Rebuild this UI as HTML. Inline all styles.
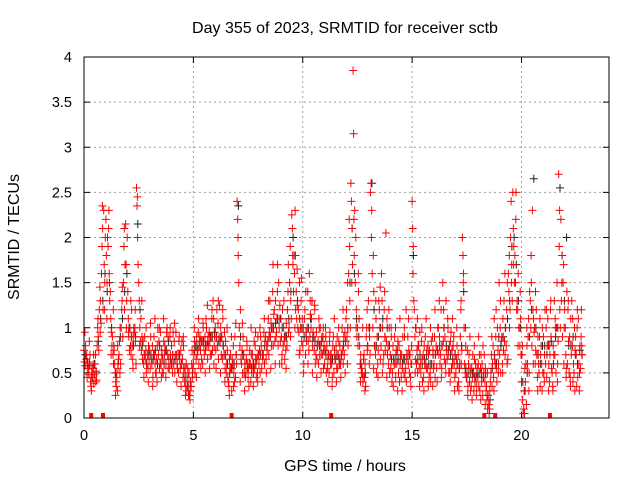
<!DOCTYPE html>
<html><head><meta charset="utf-8"><style>
html,body{margin:0;padding:0;background:#fff;}
svg{display:block;font-family:"Liberation Sans",sans-serif;}
</style></head><body>
<svg id="chart" width="640" height="480">
<text x="345" y="33" text-anchor="middle" font-size="16">Day 355 of 2023, SRMTID for receiver sctb</text>
<text x="19" y="237" text-anchor="middle" font-size="16" transform="rotate(-90 19 237)">SRMTID / TECUs</text>
<text x="345" y="471" text-anchor="middle" font-size="16">GPS time / hours</text>
<g id="grid"></g>
<g id="ticks"></g>
<g id="blk"></g>
<g id="red"></g>
<g id="marks"></g>
<rect x="84" y="57" width="525" height="361" fill="none" stroke="#000" stroke-width="1"/>
</svg>
<script>
const xTicks=[0,5,10,15,20];
const yTicks=[0,0.5,1,1.5,2,2.5,3,3.5,4];
const yTickLabels=["0","0.5","1","1.5","2","2.5","3","3.5","4"];
const tStart=0, tStep=0.1;
const redA=[.75,.65,.55,.40,.45,.60,.80,1.2,1.6,2.3, 2.2,1.9,1.4,.9,.6,.45,.7,1.0,1.5,2.15, 1.4,1.0,.8,.95,2.55,1.5,1.1,.85,.65,.7, .75,.6,.9,.5,.7,.95,.65,.8,1.0,.55, .8,.6,.95,.7,.55,.65,.4,.3,.5,.35, .6,.8,.75,.9,.85,.7,1.0,.8,.9,1.3, 1.0,.8,1.25,.9,.7,.5,.4,.7,.6,.9, 2.4,1.0,.6,.7,.5,.45,.6,.7,.55,.65, .6,.8,.7,.9,.85,1.3,1.0,1.2,.95,1.5, 1.1,.8,.9,1.2,1.5,2.25,1.8,1.4,1.2,1.0, .8,1.2,1.0,1.6,1.1,.9,.7,.85,1.0,.7, .6,.8,.5,.7,.9,.65,.55,.8,1.0,.7, 1.2,1.6,2.6,3.85,1.5,1.0,.8,.55,.7,.9, 1.3,2.5,1.0,.8,.9,1.2,1.6,.7,2.05,.8, .7,.5,.9,.6,.8,.45,.65,.55,.9,.7, 2.4,1.2,.6,.8,.5,.7,.9,.55,.75,.6, .6,.8,1.0,.7,1.5,.9,.65,.8,.55,.9, .5,.7,.9,2.0,.6,.45,.7,.35,.5,.6, .45,.3,.6,.7,.35,.15,.5,.8,.6,1.0, .7,.9,1.3,.8,1.6,2.0,2.5,1.8,1.3,1.0, .4,.1,.6,.9,1.3,2.3,1.0,.7,.5,.8, .9,.6,1.1,.7,.5,1.3,1.0,2.7,2.2,1.5, 1.0,.6,.9,1.3,.5,.7,1.1,.55];
const redB=[.62,.70,.48,.35,.55,.70,1.0,1.45,1.9,1.7, 1.8,2.1,1.1,.7,.5,.3,.85,1.2,1.9,1.7, 1.1,.8,.65,1.0,2.35,1.3,.75,.6,.75,.55, .55,.8,.7,.65,.85,.6,.5,.75,.7,.9, .6,.85,.7,.5,.75,.45,.55,.35,.25,.6, .7,.65,.95,.75,.6,.9,.8,.95,.7,1.1, .75,1.05,.85,.65,.95,.6,.35,.55,.8,.45, 2.2,.8,.75,.5,.65,.55,.4,.6,.8,.5, .75,.55,.95,.65,1.1,.9,1.4,.85,1.1,1.0, .9,1.0,.75,1.4,1.9,2.1,1.6,1.1,.95,1.3, 1.0,.7,1.4,.9,1.3,.75,.95,.6,.8,.9, .75,.55,.85,.6,.5,.8,.7,.6,.75,.95, .9,2.2,2.4,3.15,2.0,.8,.6,.5,.45,1.0, 1.0,2.6,1.8,.7,.6,1.0,1.3,1.2,.85,.6, .55,.8,.6,.75,.4,.7,.5,1.2,.6,.45, 2.1,.9,.75,.55,.85,.45,.6,.8,.5,.9, .9,.55,.7,1.2,.85,.6,1.1,.5,.75,.6, .65,.4,1.2,1.8,.5,.75,.4,.55,.3,.45, .6,.55,.25,.4,.2,.05,.7,.45,.9,.75, 1.0,.6,.85,1.2,1.4,2.4,2.1,1.5,1.2,.8, .7,.3,.15,1.1,1.0,1.2,.6,.45,.9,.6, .5,1.0,.8,1.2,.35,.7,1.5,1.9,1.3,1.7, .7,1.2,.45,.8,1.0,.35,.6,.9];
const redC=[.58,.55,.62,.50,.38,.52,.90,1.3,2.1,1.5, 1.5,1.6,.95,.6,.4,.55,1.0,1.45,1.2,1.3, .9,.7,.9,.85,2.0,1.0,.9,.7,.5,.8, .9,.45,.6,.8,.55,.75,.85,.6,.55,.7, .7,.5,.6,.9,.6,.8,.35,.45,.3,.45, .85,.9,.6,.85,1.0,.75,.65,.85,1.2,.8, .9,.65,1.0,1.1,.55,.75,.65,.3,.5,.7, 1.8,1.2,.5,.6,.8,.6,.7,.5,.65,.9, .5,.7,.6,.8,.7,1.05,.8,1.3,1.7,1.25, .7,.85,1.05,.95,1.3,1.7,2.3,1.25,1.5,.85, .6,.95,.85,1.15,.8,1.2,.65,1.0,.7,.55, .9,.65,.7,.45,.75,.55,.85,.65,.6,.85, 1.5,1.3,2.1,1.8,1.2,1.4,.7,.4,.6,.75, .9,2.3,1.4,1.1,.75,.65,1.0,.9,1.1,1.0, .9,.65,.45,.85,.6,.55,.9,.65,.75,.6, 1.9,.65,.5,.95,.65,.8,.55,.7,.4,.75, .45,.75,.9,.55,1.0,1.3,.7,.85,.6,.45, .8,.55,.6,1.6,.8,.35,.55,.45,.65,.35, .35,.7,.45,.55,.1,.3,.35,1.1,.55,.6, .5,1.1,.7,1.5,1.0,1.7,1.9,2.5,1.6,1.1, .2,.55,.8,.5,1.5,1.1,.75,.9,.35,1.0, .7,.45,.6,.9,.8,1.0,.6,1.2,1.8,1.0, .55,.85,1.1,.4,.75,1.2,.5,.8];
const redD=[.80,.60,.70,.55,.48,.42,.75,1.05,1.2,2.0, 2.0,1.3,.8,.75,.35,.65,.6,.9,1.7,2.0, .75,1.2,1.0,.6,1.7,.85,.65,.9,.6,.65, .65,.7,.5,1.0,.6,.5,.7,.95,.65,.6, .95,.7,.55,.65,.85,.5,.6,.25,.4,.55, .5,.7,.85,.65,.8,1.1,.9,.7,.75,.9, 1.2,.9,.7,.8,.85,.45,.55,.65,.4,.6, 1.5,.65,.9,.45,.55,.75,.5,.85,.45,.7, .9,.65,.85,.75,.95,.8,1.15,.9,.8,.85, 1.2,.65,.8,1.0,1.1,1.4,1.2,1.0,.75,1.1, 1.1,.85,.75,1.0,.95,.6,.8,.7,.9,.8, .5,.7,.6,.8,.65,.9,.6,.7,.9,1.1, .8,1.0,1.7,2.3,.9,1.1,.5,.65,.35,.8, .7,1.6,.8,.5,1.3,.8,.6,.75,.7,.5, .4,.6,.75,.5,.7,.9,.45,.7,.5,.8, 1.3,1.0,.8,.6,.4,.6,.75,.45,.85,.55, .7,1.0,.6,.8,.65,.75,.5,.95,.8,.7, .35,.6,.75,1.0,.45,.6,.3,.7,.4,.55, .7,.4,.5,.3,.25,.4,.6,.65,.4,1.5, .85,.75,1.0,.65,1.2,1.3,1.5,1.2,1.0,.7, .05,.4,.6,1.4,.8,.95,1.2,.6,.7,.5, 1.2,.8,.4,.55,.7,.5,.85,1.0,.9,1.2, 1.4,.5,.7,.6,.9,.45,.8,.7];
const redE=[.95,.45,.85,.3,.7,.4,1.1,.95,2.35,1.2, 1.1,2.3,.7,1.2,.25,.8,.5,1.3,2.1,1.0, .95,1.3,.55,1.2,2.45,.8,1.3,.45,1.0,.4, 1.05,.35,1.1,.4,1.0,.45,1.1,.45,.9,1.0, .5,1.05,.4,.85,.35,.9,.25,.55,.2,.75, 1.0,.45,1.1,.55,1.05,.5,1.25,.55,1.1,.6, .55,1.3,.5,1.2,.4,1.0,.25,.9,.35,1.05, 2.0,.4,1.05,.3,.85,.35,1.0,.35,.95,.4, 1.0,.4,1.1,.5,1.3,.55,1.7,.6,1.4,.6, .6,1.3,.55,1.7,.9,1.8,1.0,1.65,.7,1.55, .5,1.4,.6,1.3,.5,1.25,.45,1.1,.5,1.0, 1.0,.4,.95,.35,1.1,.4,1.0,.45,1.2,.5, .6,1.9,1.5,2.2,1.0,1.6,.4,1.0,.3,1.2, .6,2.0,.55,1.3,.45,1.45,.5,1.4,.45,1.2, 1.0,.35,1.0,.3,1.1,.3,1.0,.4,1.1,.35, 1.6,.5,1.1,.35,1.0,.3,1.1,.35,1.0,.35, 1.2,.4,1.3,.45,1.2,.5,1.0,.4,1.1,.3, 1.0,.3,1.3,1.5,1.0,.25,.9,.2,.8,.25, .9,.2,.8,.15,.5,.1,.9,.3,1.2,.5, 1.3,.5,1.6,.6,1.8,1.5,1.7,2.2,.8,1.4, .8,.05,1.0,.3,1.8,.6,1.4,.3,1.1,.3, .4,1.2,.3,1.3,.3,1.1,.4,2.3,1.5,.6, .45,1.3,.35,1.1,.3,1.0,.3,1.2];
const black=[.70,.62,.58,.45,.60,.50,.85,1.1,1.3,1.6, 1.4,1.5,1.0,.8,.5,.6,.9,1.1,1.4,1.6, 1.0,.9,.8,.9,2.15,1.2,.8,.7,.6,.7, .7,.65,.75,.6,.8,.7,.6,.75,.85,.65, .7,.65,.6,.7,.6,.55,.45,.35,.4,.5, .75,.8,.8,.85,.85,.8,.85,.9,.9,.95, .9,.85,.9,.8,.7,.6,.5,.55,.6,.7, 2.35,.9,.7,.6,.6,.6,.55,.6,.6,.7, .7,.7,.8,.8,.9,1.0,1.0,1.05,1.1,1.1, 1.0,.9,.9,1.1,1.4,2.0,1.8,1.3,1.1,1.0, .9,.9,1.0,1.1,.9,.85,.8,.8,.85,.75, .7,.7,.65,.65,.7,.7,.65,.7,.8,.85, 1.0,1.5,2.1,1.6,1.1,.9,.6,.45,.5,.8, 1.0,2.6,1.2,.8,.9,1.0,1.1,.9,1.0,.8, .65,.65,.7,.65,.65,.6,.65,.7,.7,.6, 1.8,1.0,.65,.7,.6,.65,.7,.6,.6,.7, .7,.75,.8,.8,1.0,.8,.75,.7,.65,.7, .6,.55,.8,1.4,.55,.5,.5,.5,.45,.5, .5,.5,.45,.5,.25,.2,.55,.7,.6,.9, .8,.9,1.0,1.1,1.3,1.9,2.0,1.7,1.3,1.0, .4,.3,.5,.9,1.2,2.65,1.0,.7,.6,.8, .8,.7,.8,.85,.6,.9,1.0,2.55,1.8,1.3, 2.0,.8,.8,.9,.7,.6,.75,.7];
const markerHours=[0.33,0.87,6.75,11.3,18.3,18.8,21.3];

const NS="http://www.w3.org/2000/svg";
const X0=84,X1=609,Y0=418,Y1=57,XMAX=24,YMAX=4;
function sx(t){return X0+(t/XMAX)*(X1-X0);}
function sy(v){return Y0-(v/YMAX)*(Y0-Y1);}
function mk(tag,attrs,parent){const e=document.createElementNS(NS,tag);for(const k in attrs)e.setAttribute(k,attrs[k]);parent.appendChild(e);return e;}
const grid=document.getElementById('grid'),ticks=document.getElementById('ticks');
xTicks.forEach((t,i)=>{
  const x=sx(t);
  if(t>0){const g=mk('line',{x1:x,x2:x,y1:Y0,y2:Y1,stroke:'#a0a0a0','stroke-dasharray':'2,3','stroke-width':1},grid);
  
  }
  mk('line',{x1:x,x2:x,y1:Y0,y2:Y0-6,stroke:'#000'},ticks);
  mk('line',{x1:x,x2:x,y1:Y1,y2:Y1+6,stroke:'#000'},ticks);
  const tx=mk('text',{x:x,y:Y0+22,'text-anchor':'middle','font-size':14.5},ticks);
  tx.textContent=String(t);
  
  
});
yTicks.forEach((v,i)=>{
  const y=sy(v);
  if(v>0&&v<YMAX){const g=mk('line',{x1:X0,x2:X1,y1:y,y2:y,stroke:'#a0a0a0','stroke-dasharray':'2,3','stroke-width':1},grid);
  
  }
  mk('line',{x1:X0,x2:X0+6,y1:y,y2:y,stroke:'#000'},ticks);
  mk('line',{x1:X1,x2:X1-6,y1:y,y2:y,stroke:'#000'},ticks);
  const tx=mk('text',{x:X0-12,y:y+5,'text-anchor':'end','font-size':14.5},ticks);
  tx.textContent=yTickLabels[i];
  
  
});
function plus(arr,off,g,color,name){
  let d='';
  arr.forEach((v,i)=>{const x=sx(tStart+i*tStep+off),y=sy(v);
    d+=`M${(x-4).toFixed(1)} ${y.toFixed(1)}h8M${x.toFixed(1)} ${(y-4).toFixed(1)}v8`;});
  const p=mk('path',{d:d,stroke:color,'stroke-width':1,fill:'none'},g);
  
  
}
const blk=document.getElementById('blk'),red=document.getElementById('red');
plus(black,0.06,blk,'#222','black-points');
plus(redA,0,red,'#ff0000','red-points-a');
plus(redB,0.025,red,'#ff0000','red-points-b');
plus(redC,0.05,red,'#ff0000','red-points-c');
plus(redD,0.075,red,'#ff0000','red-points-d');
plus(redE,0.04,red,'#ff0000','red-points-e');
const marks=document.getElementById('marks');
markerHours.forEach(t=>{
  const r=mk('rect',{x:sx(t)-2,y:Y0-5,width:4,height:5,fill:'#ff0000'},marks);
  
  
});
</script>
</body></html>
